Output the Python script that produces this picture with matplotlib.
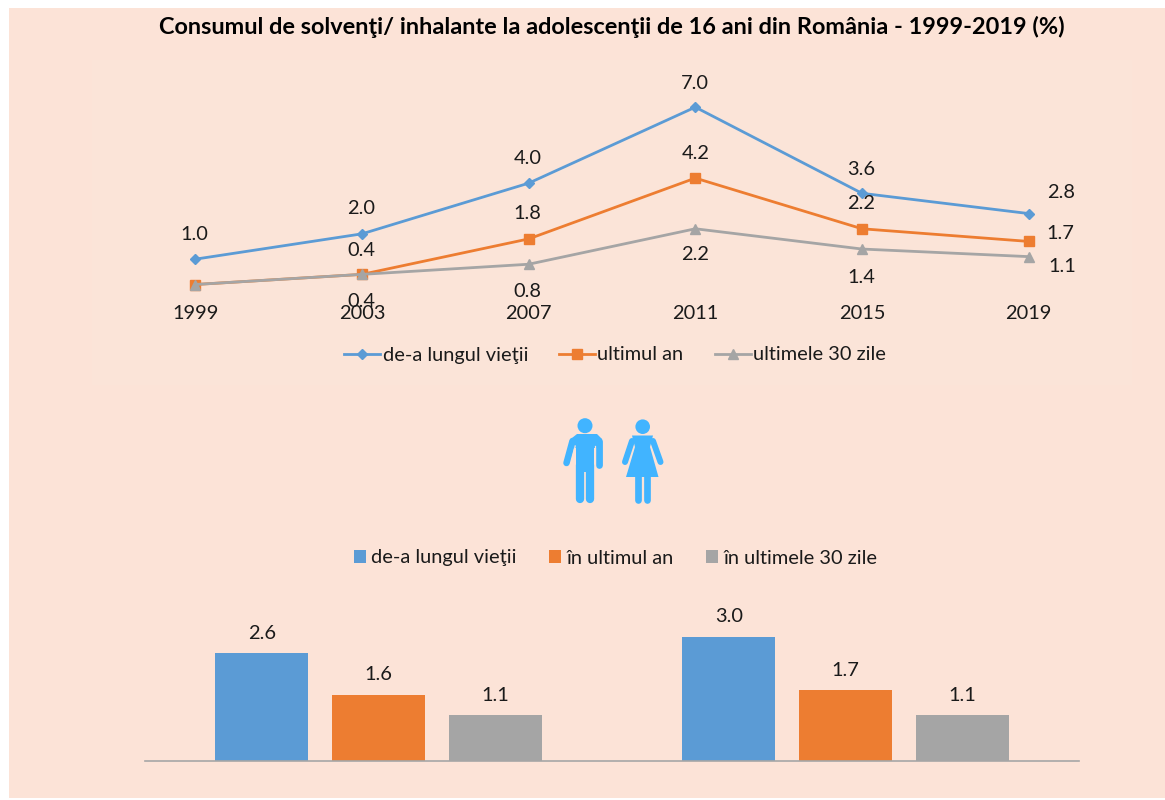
import matplotlib
matplotlib.use("Agg")
import matplotlib.pyplot as plt
from matplotlib.patches import Rectangle, Circle, Polygon

W, H = 1165, 800
plt.rcParams['font.family'] = ['Lato', 'DejaVu Sans']

# data
years = ["1999", "2003", "2007", "2011", "2015", "2019"]
viata = [1.0, 2.0, 4.0, 7.0, 3.6, 2.8]
an = [0.0, 0.4, 1.8, 4.2, 2.2, 1.7]
zile = [0.0, 0.4, 0.8, 2.2, 1.4, 1.1]
bar_viata = [2.6, 3.0]
bar_an = [1.6, 1.7]
bar_zile = [1.1, 1.1]

BLUE = "#5B9BD5"
ORANGE = "#ED7D31"
GRAY = "#A5A5A5"
ICON = "#41B4FF"
PEACH = "#FCE3D7"
FS = 14.4

def ax_px(fig, left, top, right, bottom):
  return fig.add_axes([left / W, 1 - bottom / H, (right - left) / W, (bottom - top) / H])

fig = plt.figure(figsize=(W / 100, H / 100), dpi=100, facecolor="white")

# background, pixel coordinates
bg = ax_px(fig, 0, 0, W, H)
bg.set_xlim(0, W)
bg.set_ylim(H, 0)
bg.axis("off")
bg.add_patch(Rectangle((9, 8), W - 9, H - 10, color=PEACH, lw=0))
bg.add_patch(Rectangle((92, 60), 1040, 325, color="#FBE4D8", lw=0))

# title
fig.text(611.5 / W, 1 - 27 / H, "Consumul de solvenţi/ inhalante la adolescenţii de 16 ani din România - 1999-2019 (%)",
         ha="center", va="center", fontsize=16.9, fontweight="bold", color="black")

# line chart
ax = ax_px(fig, 112, 56.5, 1112, 284.5)
ax.patch.set_alpha(0)
x = list(range(len(years)))
ax.plot(x, viata, color=BLUE, lw=2, marker="D", ms=5.5, label="de-a lungul vieţii", clip_on=False)
ax.plot(x, an, color=ORANGE, lw=2, marker="s", ms=7.5, label="ultimul an", clip_on=False)
ax.plot(x, zile, color=GRAY, lw=2, marker="^", ms=7.5, label="ultimele 30 zile", clip_on=False)
ax.set_xlim(-0.5, 5.5)
ax.set_ylim(0, 9)
ax.set_yticks([])
ax.set_xticks(x)
ax.set_xticklabels(years, fontsize=FS, color="#1a1a1a")
ax.tick_params(axis="x", length=0, pad=15)
for s in ax.spines.values():
  s.set_visible(False)

# label offsets in pixels (right, up), one per point; None = no label
viata_off = [(-1, 25), (-1, 25), (-1, 25), (0, 24), (-1, 24), (32, 21)]
an_off = [None, (-1, 24), (-1, 25), (0, 25), (-1, 25), (32, 8)]
zile_off = [None, (-1, -27), (-1, -27), (0, -26), (-1, -28), (34, -10)]
for vals, offs in [(viata, viata_off), (an, an_off), (zile, zile_off)]:
  for i, v in enumerate(vals):
    if offs[i] is None:
      continue
    ax.annotate("%.1f" % v, (i, v), xytext=(offs[i][0] * 0.72, offs[i][1] * 0.72), textcoords="offset points",
                ha="center", va="center", fontsize=FS, color="#1a1a1a", annotation_clip=False)

ax.legend(loc="center", bbox_to_anchor=(615 / W, 1 - 355 / H), bbox_transform=fig.transFigure, ncol=3,
          frameon=False, fontsize=FS, handlelength=1.8, handletextpad=0.12, columnspacing=1.55, labelcolor="#1a1a1a")

# icons
def limb(x0, y0, x1, y1, w, col=ICON):
  bg.plot([x0, x1], [y0, y1], color=col, lw=w * 0.72, solid_capstyle="round")

# man
bg.add_patch(Circle((585, 425.7), 7.5, color=ICON, lw=0))
bg.add_patch(Polygon([(572, 438), (577, 434), (597, 434), (602, 439), (602, 448), (570, 448)], color=ICON, lw=0))
bg.add_patch(Rectangle((576, 440), 18, 32, color=ICON, lw=0))
limb(572.5, 441, 566.5, 463, 6.5)
limb(598.7, 441, 598.7, 465, 6.8)
bg.plot([575.2, 572], [446, 460], color=PEACH, lw=0.9)
bg.plot([594.7, 594.7], [446, 468], color=PEACH, lw=0.9)
limb(580.2, 465, 580.2, 499, 8.3)
limb(589.8, 465, 589.8, 499, 8.3)
# woman
bg.add_patch(Circle((642.7, 426.7), 7.3, color=ICON, lw=0))
bg.add_patch(Polygon([(632, 435.5), (653, 435.5), (650, 447), (658.5, 477), (626, 477), (635, 447)], color=ICON, lw=0))
limb(632, 441, 625, 462, 6)
limb(653, 441, 660.5, 462, 6)
limb(637.6, 475, 637.6, 500, 6.7)
limb(646.6, 475, 646.6, 500, 6.7)

# bar chart
ax2 = ax_px(fig, 145, 600, 1079, 761)
ax2.patch.set_alpha(0)
gx = [0, 1]
ax2.bar([g - 0.25 for g in gx], bar_viata, width=0.2, color=BLUE, label="de-a lungul vieţii")
ax2.bar(gx, bar_an, width=0.2, color=ORANGE, label="în ultimul an")
ax2.bar([g + 0.25 for g in gx], bar_zile, width=0.2, color=GRAY, label="în ultimele 30 zile")
for c in ax2.containers:
  ax2.bar_label(c, fmt="%.1f", padding=8, fontsize=FS, color="#1a1a1a")
ax2.set_xlim(-0.5, 1.5)
ax2.set_ylim(0, 161 / 41.5)
ax2.set_xticks([])
ax2.set_yticks([])
for s in ["top", "left", "right"]:
  ax2.spines[s].set_visible(False)
ax2.spines["bottom"].set_color("#A6A6A6")
ax2.spines["bottom"].set_linewidth(1.2)
ax2.legend(loc="center", bbox_to_anchor=(615.5 / W, 1 - 558 / H), bbox_transform=fig.transFigure, ncol=3,
           frameon=False, fontsize=FS, handlelength=0.6, handleheight=0.6, handletextpad=0.25,
           columnspacing=1.65, labelcolor="#1a1a1a")

fig.savefig("out.png", dpi=100, facecolor=fig.get_facecolor())
